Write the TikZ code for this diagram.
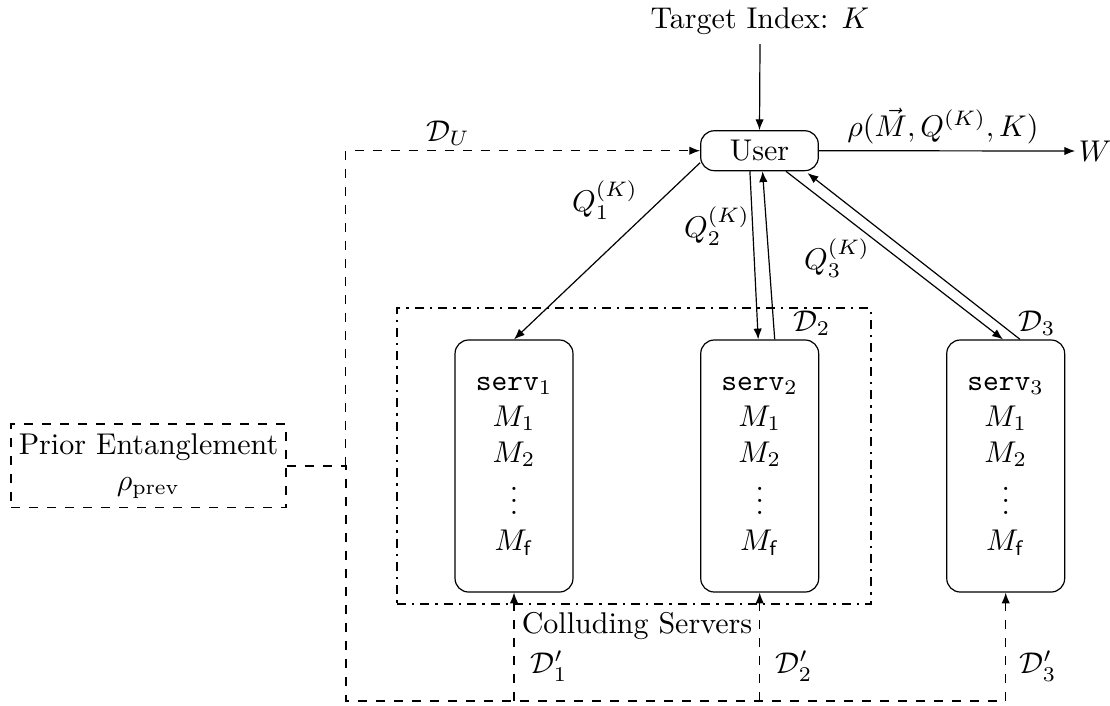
\documentclass[tikz,border=0pt]{standalone}
\usepackage{amsmath}
\usetikzlibrary{arrows.meta}
\begin{document}
\begin{tikzpicture}[x=0.33333pt,y=-0.33333pt,
  box/.style={draw, rounded corners=4.5pt, align=center, inner sep=0pt},
  servbox/.style={box, minimum width=39.3pt, minimum height=84pt},
  arr/.style={-{Latex[length=3.6pt,width=2.8pt]}},
  lbl/.style={inner sep=1pt},
  thindash/.style={dashed},
  thickdash/.style={dashed, thick}
]
\useasboundingbox (0,0) rectangle (1110,705);

% nodes
\node[lbl] (target) at (760,21) {Target Index: $K$};
\node[box, minimum width=39.2pt, minimum height=13.3pt] (user) at (759.5,150.7) {User};
\node[lbl] (W) at (1095,151) {$W$};
\node[lbl] (rho) at (943,126) {$\rho(\vec{M}, Q^{(K)}, K)$};

\node[draw, thick, dashdotted, minimum width=157.9pt, minimum height=98.7pt, inner sep=0pt] (coll) at (633.9,456) {};
\node[servbox] (s1) at (514,466) {\texttt{serv}$_1$\\ $M_1$\\ $M_2$\\ $\vdots$\\ $M_{\mathsf{f}}$};
\node[servbox] (s2) at (759.7,466) {\texttt{serv}$_2$\\ $M_1$\\ $M_2$\\ $\vdots$\\ $M_{\mathsf{f}}$};
\node[servbox] (s3) at (1005.7,466) {\texttt{serv}$_3$\\ $M_1$\\ $M_2$\\ $\vdots$\\ $M_{\mathsf{f}}$};
\node[lbl] (colltext) at (637,626) {Colluding Servers};

\node[draw, thindash, align=center, inner sep=0pt, minimum width=91.7pt, minimum height=27.9pt] (pe) at (148.5,465.9) {Prior Entanglement\\ $\rho_{\mathrm{prev}}$};

\coordinate (J) at (345.7,465.9);
\coordinate (b0) at (345.7,700.7);
\coordinate (b1) at (s1.south |- b0);
\coordinate (b2) at (s2.south |- b0);
\coordinate (b3) at (s3.south |- b0);

% labels
\node[lbl] (du) at (448,133) {$\mathcal{D}_U$};
\node[lbl] (q1) at (605,200) {$Q_1^{(K)}$};
\node[lbl] (q2) at (717,226) {$Q_2^{(K)}$};
\node[lbl] (q3) at (837,258) {$Q_3^{(K)}$};
\node[lbl] (d2) at (812,323) {$\mathcal{D}_2$};
\node[lbl] (d3) at (1037,323) {$\mathcal{D}_3$};
\node[lbl] (dp1) at (549,666) {$\mathcal{D}'_1$};
\node[lbl] (dp2) at (794,666) {$\mathcal{D}'_2$};
\node[lbl] (dp3) at (1038,666) {$\mathcal{D}'_3$};

% connectors
\draw[arr] ([yshift=-2pt]target.south) -- (user.north);
\draw[arr] (user.east) -- (W.west);
\draw[arr] ([yshift=-4pt]user.west) -- (s1.north);
\draw[arr] ([xshift=-3.2pt]user.south) -- ([xshift=-0.5pt]s2.north);
\draw[arr] ([xshift=5pt]s2.north) -- ([xshift=1pt]user.south);
\draw[arr] ([xshift=8.8pt]user.south) -- ([xshift=-0.9pt]s3.north);
\draw[arr] ([xshift=4.8pt]s3.north) -- ([xshift=16pt,yshift=-0.6pt]user.south);

\draw[thindash, arr] (J) |- (user.west);
\draw[thickdash] (pe.east) -- (J) -- (b0) -- (b3);
\draw[thindash, arr] (b1) -- (s1.south);
\draw[thindash, arr] (b2) -- (s2.south);
\draw[thindash, arr] (b3) -- (s3.south);
\end{tikzpicture}
\end{document}
